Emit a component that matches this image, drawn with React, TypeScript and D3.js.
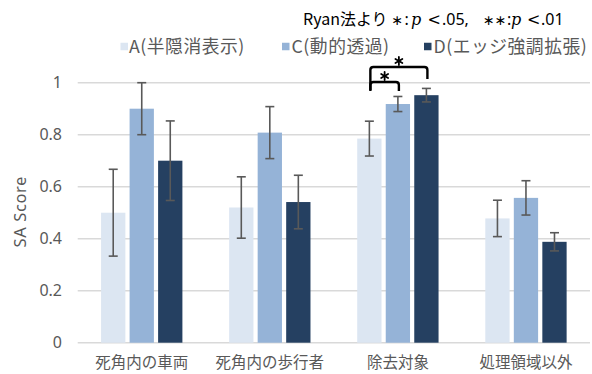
import React from "react";
import * as d3 from "d3";

const W = 592;
const H = 374;

const categories = ["死角内の車両", "死角内の歩行者", "除去対象", "処理領域以外"];
const seriesNames = ["A(半隠消表示)", "C(動的透過)", "D(エッジ強調拡張)"];
const seriesColors = ["#DCE6F2", "#95B3D7", "#254061"];
const meanA = [0.5, 0.52, 0.785, 0.478];
const meanC = [0.9, 0.808, 0.918, 0.557];
const meanD = [0.7, 0.541, 0.952, 0.388];
const errA = [0.167, 0.118, 0.067, 0.07];
const errC = [0.1, 0.1, 0.029, 0.066];
const errD = [0.153, 0.103, 0.026, 0.035];
const yTicks = [0, 0.2, 0.4, 0.6, 0.8, 1];
const yTickLabels = ["0", "0.2", "0.4", "0.6", "0.8", "1"];

// significance brackets: category index, from series, to series, star count
const sigCategory = [2, 2];
const sigFrom = [0, 0];
const sigTo = [1, 2];
const sigLevel = [1, 1];

const FONT = "'Noto Sans CJK JP', 'Noto Sans', sans-serif";
const LATIN = "'Noto Sans', 'Noto Sans CJK JP', sans-serif";
const MATH = "'DejaVu Serif', serif";
const SYM = "'DejaVu Sans', sans-serif";

function Asterisk({ cx, cy, r }: { cx: number; cy: number; r: number }) {
  const angles = [90, 30, 150];
  return (
    <g stroke="#000" strokeWidth={1.8} strokeLinecap="round">
      {angles.map((a) => {
        const rad = (a * Math.PI) / 180;
        return (
          <line
            key={a}
            x1={cx - r * Math.cos(rad)}
            y1={cy - r * Math.sin(rad)}
            x2={cx + r * Math.cos(rad)}
            y2={cy + r * Math.sin(rad)}
          />
        );
      })}
    </g>
  );
}

export default function App() {
  const means = [meanA, meanC, meanD];
  const errs = [errA, errC, errD];

  const x0 = d3
    .scaleBand<string>()
    .domain(categories)
    .range([77.7, 590])
    .paddingInner(0.365)
    .paddingOuter(0.1825);
  const x1 = d3
    .scaleBand<string>()
    .domain(seriesNames)
    .range([0, x0.bandwidth()])
    .paddingInner(0.148);
  const y = d3.scaleLinear().domain([0, 1]).range([342.7, 82.7]);

  const barX = (ci: number, si: number) => (x0(categories[ci]) ?? 0) + (x1(seriesNames[si]) ?? 0);
  const barCX = (ci: number, si: number) => barX(ci, si) + x1.bandwidth() / 2;

  const capHalf = 4.5;

  // legend layout
  const legendSquareX = [120.5, 282, 424];
  const legendTextX = [129, 291.5, 433.5];
  const legendY = 46.5;

  // bracket geometry
  const bracketTop = [82, 67];
  const bracketLegBottom = [[91, 91], [90, 79]];
  const rad = 3;

  return (
    <svg
      width={W}
      height={H}
      style={{ position: "absolute", left: 0, top: 0, background: "#fff" }}
      fontFamily={FONT}
    >
      {/* title */}
      <text y={25} fontSize={16} fill="#000" fontFamily={LATIN}>
        <tspan x={303} fontFamily={FONT}>Ryan法より</tspan>
        <tspan x={391.5} fontFamily={SYM} fontSize={14}>∗</tspan>
        <tspan x={404.5}>:</tspan>
        <tspan x={411} fontFamily={MATH} fontStyle="italic">p</tspan>
        <tspan x={427.5} fontFamily={MATH}>&lt;</tspan>
        <tspan x={442}>.05,</tspan>
        <tspan x={483} fontFamily={SYM} fontSize={14}>∗∗</tspan>
        <tspan x={507}>:</tspan>
        <tspan x={511} fontFamily={MATH} fontStyle="italic">p</tspan>
        <tspan x={527} fontFamily={MATH}>&lt;</tspan>
        <tspan x={541}>.01</tspan>
      </text>

      {/* legend */}
      {seriesNames.map((name, i) => (
        <g key={name}>
          <rect
            x={legendSquareX[i]}
            y={legendY - 3.75}
            width={7.5}
            height={7.5}
            fill={seriesColors[i]}
          />
          <text
            x={legendTextX[i]}
            y={legendY + 6.5}
            fontSize={17.8}
            letterSpacing={0.5}
            fill="#595959"
          >
            {name}
          </text>
        </g>
      ))}

      {/* gridlines */}
      {yTicks.map((t, i) => (
        <g key={t}>
          <line x1={77.7} x2={590} y1={y(t)} y2={y(t)} stroke="#D9D9D9" strokeWidth={1.5} />
          <text
            x={62}
            y={y(t)}
            dy="0.35em"
            textAnchor="end"
            fontSize={16}
            fontFamily={LATIN}
            fill="#595959"
          >
            {yTickLabels[i]}
          </text>
        </g>
      ))}

      {/* y title */}
      <text
        transform={`translate(20,${(y(0) + y(1)) / 2 - 1}) rotate(-90)`}
        textAnchor="middle"
        dy="0.35em"
        fontSize={16.5}
        letterSpacing={0.6}
        fontFamily={LATIN}
        fill="#595959"
      >
        SA Score
      </text>

      {/* bars */}
      {categories.map((c, ci) =>
        seriesNames.map((s, si) => (
          <rect
            key={c + s}
            x={barX(ci, si)}
            y={y(means[si][ci])}
            width={x1.bandwidth()}
            height={y(0) - y(means[si][ci])}
            fill={seriesColors[si]}
          />
        ))
      )}

      {/* error bars */}
      {categories.map((c, ci) =>
        seriesNames.map((s, si) => {
          const cx = barCX(ci, si);
          const hi = y(means[si][ci] + errs[si][ci]);
          const lo = y(means[si][ci] - errs[si][ci]);
          return (
            <g key={"e" + c + s} stroke="#595959" strokeWidth={1.6}>
              <line x1={cx} x2={cx} y1={hi} y2={lo} />
              <line x1={cx - capHalf} x2={cx + capHalf} y1={hi} y2={hi} />
              <line x1={cx - capHalf} x2={cx + capHalf} y1={lo} y2={lo} />
            </g>
          );
        })
      )}

      {/* category labels */}
      {categories.map((c) => (
        <text
          key={"l" + c}
          x={(x0(c) ?? 0) + x0.bandwidth() / 2}
          y={368}
          textAnchor="middle"
          fontSize={15.5}
          fill="#595959"
        >
          {c}
        </text>
      ))}

      {/* significance brackets */}
      {sigCategory.map((ci, k) => {
        const xl = barCX(ci, sigFrom[k]) + 1;
        const xr = barCX(ci, sigTo[k]) + 1;
        const top = bracketTop[k];
        const [bl, br] = bracketLegBottom[k];
        const path = d3.path();
        path.moveTo(xl, bl);
        path.lineTo(xl, top + rad);
        path.quadraticCurveTo(xl, top, xl + rad, top);
        path.lineTo(xr - rad, top);
        path.quadraticCurveTo(xr, top, xr, top + rad);
        path.lineTo(xr, br);
        const mid = (xl + xr) / 2;
        return (
          <g key={"s" + k}>
            <path d={path.toString()} fill="none" stroke="#000" strokeWidth={2.4} />
            {d3.range(sigLevel[k]).map((j) => (
              <Asterisk key={j} cx={mid + (j - (sigLevel[k] - 1) / 2) * 9} cy={top - 6} r={4} />
            ))}
          </g>
        );
      })}
    </svg>
  );
}
